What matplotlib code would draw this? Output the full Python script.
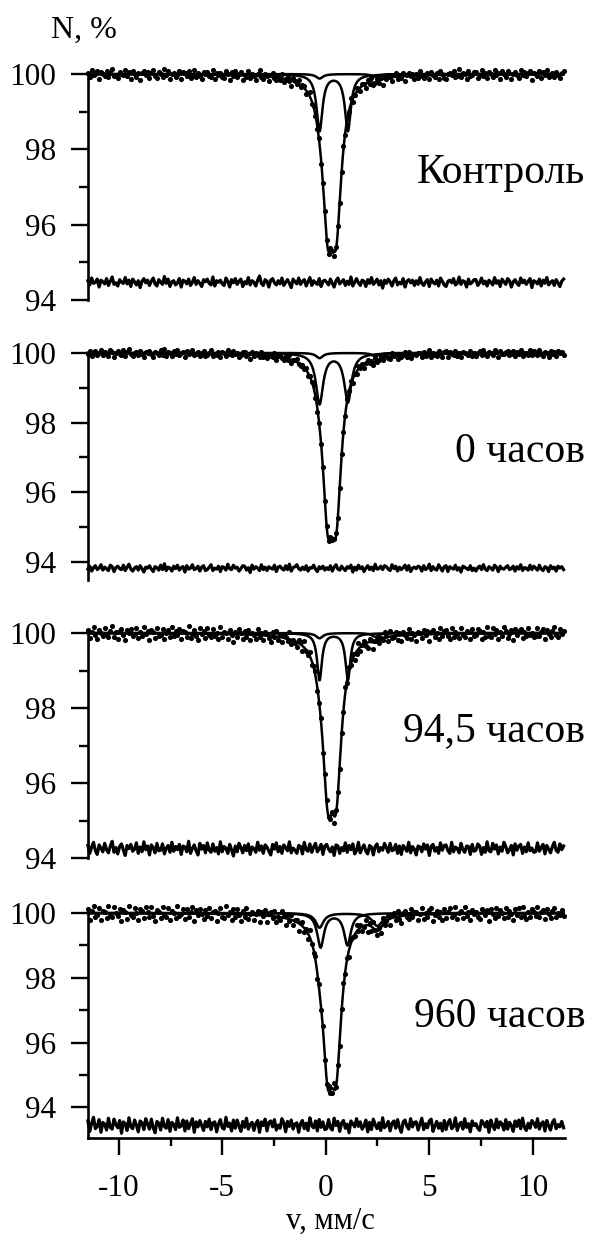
import numpy as np
import matplotlib.pyplot as plt

plt.rcParams['font.family'] = ['Liberation Serif', 'DejaVu Serif']
plt.rcParams['axes.unicode_minus'] = False

# sample names, top to bottom
labels = ["Контроль", "0 часов", "94,5 часов", "960 часов"]

# lines given as (position mm/s, depth %, width mm/s)
# envelope of the fit, drawn through the points
fit_lines = [
    [(0.09, 3.39, 0.62), (0.51, 3.39, 0.62), (-0.3, 0.12, 0.4), (2.4, 0.08, 0.4)],
    [(0.09, 3.85, 0.62), (0.51, 3.85, 0.62), (-0.3, 0.15, 0.4), (2.4, 0.10, 0.4)],
    [(0.09, 3.51, 0.62), (0.51, 3.51, 0.62), (-0.3, 0.14, 0.4), (2.4, 0.10, 0.4)],
    [(0.09, 3.90, 0.62), (0.51, 3.90, 0.62), (-0.3, 0.45, 0.45), (2.5, 0.40, 0.6)],
]
# inner doublet
sub_lines = [
    [(-0.3, 1.50, 0.345), (1.07, 1.50, 0.345)],
    [(-0.3, 1.45, 0.42), (1.07, 1.40, 0.42)],
    [(-0.3, 1.25, 0.28), (1.07, 1.25, 0.28)],
    [(-0.25, 1.05, 0.39), (1.05, 0.98, 0.39)],
]
# weak doublet
small_lines = [
    [(-0.3, 0.12, 0.4), (2.4, 0.08, 0.4)],
    [(-0.3, 0.15, 0.4), (2.4, 0.10, 0.4)],
    [(-0.3, 0.14, 0.4), (2.4, 0.10, 0.4)],
    [(-0.3, 0.45, 0.45), (2.5, 0.40, 0.6)],
]
# level of the residual trace
resid_base = [94.47, 93.82, 94.25, 93.45]
ylims = [(94, 100), (93.48, 100), (94, 100), (93.05, 100)]

# residuals, units of 0.014 %
r1 = [3, -5, 8, -2, 0, 6, -9, 4, 1, -3, 7, -6, 2, 10, -4, -1,
      -7, 5, 0, -2, 9, -3, 4, -8, 6, 1, -5, 3, -10, 2, 7, -1,
      4, -6, 2, 8, -3, -7, 5, 0, -4, 11, -2, 6, -8, 1, 3, -5,
      -1, 7, -9, 4, 2, -3, 6, -6, 0, 9, -4, 3, -2, -8, 5, 1,
      6, -2, -5, 10, -7, 3, 0, 4, -3, -6, 8, 2, -9, 5, -1, 7,
      -4, 2, 6, -8, 1, -3, 9, -5, 3, 0, -7, 4, 12, -2, -6, 5,
      2, -9, 4, 7, -1, -5, 3, -3, 8, -6, 0, 5, -2, -10, 6, 1,
      -3, 8, -4, 2, 5, -7, 1, 9, -6, 3, -1, -4, 7, -8, 2, 4,
      0, -5, 6, -2, -9, 3, 8, -3, 1, 5, -6, 2, -4, 10, -7, 0,
      7, -1, -6, 4, 2, -8, 5, -2, 9, -4, 0, 6, -5, 3, -11, 4,
      -2, 6, 1, -7, 3, 8, -5, 0, -3, 7, -9, 2, 5, -1, 4, -6,
      3, -4, 9, -2, -6, 1, 5, -8, 6, 0, -3, 4, -7, 8, 2, -5,
      -8, 2, 4, -1, 7, -5, -2, 10, -4, 3, 1, -9, 6, -3, 0, 5,
      5, -6, -1, 8, -3, 2, -7, 4, 0, -5, 9, -2, 3, -8, 6, 1,
      -4, 7, 3, -9, 1, 5, -2, -6, 8, -1, 4, -4, 2, 7, -10, 3,
      1, -3, 6, -7, 4, -2, 9, -5, 0, 3, -6, 5, -1, -8, 2, 6]
r2 = [-2, 4, -6, 1, 5, -3, 0, 7, -4, 2, -1, -5, 6, 3, -7, 1,
      4, -1, -3, 6, -5, 2, 8, -2, -6, 0, 3, -4, 5, -1, -8, 2,
      0, 5, -2, -7, 3, 1, -4, 6, -3, 9, -5, 2, 0, -6, 4, -1,
      6, -4, 1, 3, -8, 5, -2, 0, 7, -3, -1, 4, -6, 2, 5, -5,
      -3, 2, 7, -5, 0, -2, 4, -7, 3, 1, -4, 8, -1, -3, 6, 0,
      2, -6, -1, 5, 4, -4, 1, -9, 6, -2, 3, 0, -5, 7, -3, 2,
      -5, 3, 0, -2, 6, -7, 2, 4, -1, -4, 5, -3, 8, -6, 1, 3,
      7, -1, -4, 2, -3, 5, -6, 1, 0, 6, -2, -7, 3, -1, 4, -4,
      1, -3, 5, -6, 2, 7, -2, -4, 4, -1, -5, 3, 0, 6, -8, 2,
      -4, 6, -1, 3, -7, 0, 5, -3, 2, -5, 8, -2, -1, 4, -3, 5,
      3, -2, -5, 7, -1, 4, -6, 2, -3, 1, 6, -4, 5, -7, 0, 2,
      -1, 4, 2, -6, 5, -3, 0, 8, -5, 3, -2, -4, 7, 1, -6, 3,
      5, -7, 3, 0, -2, 6, -4, 1, -8, 4, 2, -1, -3, 5, -5, 0,
      -6, 1, 4, -3, 7, -2, -5, 3, 0, -4, 6, 2, -7, 4, -1, -2,
      2, 5, -3, -1, 4, -6, 3, -2, 7, -5, 1, 0, -4, 6, -3, 4,
      0, -4, 6, -2, -5, 3, 1, -7, 5, -1, 2, -6, 4, 0, 3, -3]
r3 = [6, -9, 3, 12, -4, -11, 7, 1, -6, 10, -2, -8, 5, 14, -7, 2,
      -10, 4, 9, -3, -13, 6, 0, 8, -5, -1, 11, -9, 3, -6, 13, -2,
      5, -12, 7, 2, -8, 10, -4, -3, 9, -10, 1, 6, -7, 12, -5, 4,
      -2, 8, -11, 5, 3, -6, 14, -9, 0, 7, -4, -12, 10, -1, 6, -8,
      11, -3, -7, 9, -5, 2, -10, 13, -6, 4, 1, -9, 8, -2, -14, 5,
      -6, 10, 2, -8, 6, -4, 9, -11, 3, 0, -7, 12, -3, 5, -9, 7,
      3, -5, -12, 8, -1, 11, -6, 4, -9, 7, 2, -4, 13, -8, 1, -3,
      -9, 6, 4, -10, 12, -2, -5, 9, -7, 3, 10, -6, 0, 8, -11, 5,
      8, -1, -6, 3, -13, 7, 5, -9, 2, -4, 11, -7, 6, -2, 9, -10,
      -4, 12, -8, 1, 7, -5, -10, 6, 3, -12, 4, 9, -6, 2, -3, 10,
      2, -7, 10, -4, -2, 8, -9, 5, -11, 6, 1, -5, 12, -8, 4, -1,
      -12, 5, 3, -6, 9, -1, 7, -13, 4, 8, -5, 2, -9, 11, -3, 6,
      7, -4, -9, 12, -6, 3, 0, -8, 10, -2, -7, 5, 4, -11, 8, -5,
      -3, 9, 5, -11, 2, -7, 13, -4, -6, 10, -1, 7, -10, 3, -5, 12,
      4, -8, -2, 6, -12, 9, -3, 5, 8, -9, 3, -6, 11, -4, 1, -7,
      -6, 11, -5, 2, 8, -10, 6, -1, -8, 4, 12, -3, -7, 9, -2, 5]
r4 = [9, -14, 4, 17, -8, -3, 12, -16, 6, 2, -11, 15, -5, -9, 13, 1,
      -6, 10, -18, 7, 3, -12, 16, -4, -8, 11, 0, -15, 9, 5, -10, 14,
      2, -9, 13, -6, -17, 8, 4, -11, 15, -3, -7, 12, -14, 6, 1, -10,
      16, -5, -2, 11, -13, 9, -8, 3, 14, -16, 7, -4, 10, -1, -12, 8,
      -4, 13, -10, 5, 7, -15, 2, 12, -6, -9, 17, -3, 4, -13, 11, -7,
      11, -2, -14, 8, -5, 15, -9, 1, 6, -12, 3, 10, -16, 7, -1, 13,
      -13, 6, 9, -4, 12, -11, 0, -7, 14, 5, -15, 8, -3, 11, -9, 2,
      5, -16, 3, 10, -8, 4, -12, 16, -2, -6, 9, -13, 12, -5, 7, -10,
      -8, 12, -6, -11, 15, -1, 8, -14, 4, 10, -7, 2, -17, 9, 3, -4,
      14, -3, 7, -9, -2, 11, -15, 6, -10, 13, 1, -8, 5, -12, 16, -6,
      -1, 8, -13, 4, 9, -7, 12, -5, -16, 7, 11, -3, -9, 14, -4, 6,
      7, -11, 2, 15, -10, 3, -6, 9, 13, -14, -2, 8, -7, 4, -13, 10,
      -10, 5, 12, -8, -3, 16, -12, 1, 6, -9, 14, -5, 3, -15, 9, -1,
      3, -7, -12, 10, 5, -4, 8, -16, 11, -2, -10, 13, -6, 7, 2, -11,
      12, -9, 6, -1, -14, 9, -3, 11, -8, 15, -5, -12, 4, -7, 10, 4,
      -5, 14, -9, 3, 7, -13, 10, -2, -11, 6, 12, -8, 1, -4, 8, -6]
residuals = [r1, r2, r3, r4]
resid_unit = 0.014

v_min, v_max = -11.5, 11.5


def spectrum(v, lines):
    y = np.full_like(v, 100.0)
    for pos, depth, width in lines:
        y -= depth / (1 + (2 * (v - pos) / width) ** 2)
    return y


fig = plt.figure(figsize=(5.9, 12.34), dpi=100)
boxes = [(0.149, 0.7569, 0.808, 0.1831),
         (0.149, 0.5300, 0.808, 0.1840),
         (0.149, 0.3047, 0.808, 0.1823),
         (0.149, 0.0778, 0.808, 0.1823)]
label_y = [0.8598, 0.6337, 0.4076, 0.1759]

vv = np.linspace(v_min, v_max, 2000)
for i in range(4):
    ax = fig.add_axes(boxes[i])
    res = np.array(residuals[i]) * resid_unit
    v = np.linspace(v_min, v_max, len(res))

    ax.plot(vv, spectrum(vv, fit_lines[i]), color='k', lw=1.8, clip_on=False)
    ax.plot(vv, spectrum(vv, sub_lines[i]), color='k', lw=1.8, clip_on=False)
    ax.plot(vv, spectrum(vv, small_lines[i]), color='k', lw=1.8, clip_on=False)
    ax.plot(v, spectrum(v, fit_lines[i]) + res, 'o', color='k', ms=3.7,
            mew=0, clip_on=False)
    ax.plot(v, resid_base[i] + res, color='k', lw=2.3, clip_on=False)

    ax.set_xlim(-11.5, 11.55)
    ax.set_ylim(*ylims[i])
    ax.set_yticks([94, 96, 98, 100])
    ax.set_yticks([95, 97, 99], minor=True)
    ax.tick_params(axis='y', which='major', direction='out', length=12,
                   width=1.7, labelsize=22.5, pad=11)
    ax.tick_params(axis='y', which='minor', direction='out', length=6.5,
                   width=1.7)
    for s in ['top', 'right']:
        ax.spines[s].set_visible(False)
    ax.spines['left'].set_linewidth(1.9)
    if i < 3:
        ax.spines['bottom'].set_visible(False)
        ax.set_xticks([])
    else:
        ax.spines['bottom'].set_linewidth(1.9)
        ax.set_xticks([-10, -5, 0, 5, 10])
        ax.set_xticks([-7.5, -2.5, 2.5, 7.5], minor=True)
        ax.tick_params(axis='x', which='major', direction='out', length=12,
                       width=1.7, labelsize=22.5, pad=14)
        ax.tick_params(axis='x', which='minor', direction='out', length=6,
                       width=1.7)
    fig.text(0.992, label_y[i], labels[i], ha='right', va='center', fontsize=30)

fig.text(0.086, 0.9757, "N, %", ha='left', va='center', fontsize=23)
fig.text(0.56, 0.0105, "v, мм/с", ha='center', va='center', fontsize=22)

fig.savefig('out.png', dpi=100)
